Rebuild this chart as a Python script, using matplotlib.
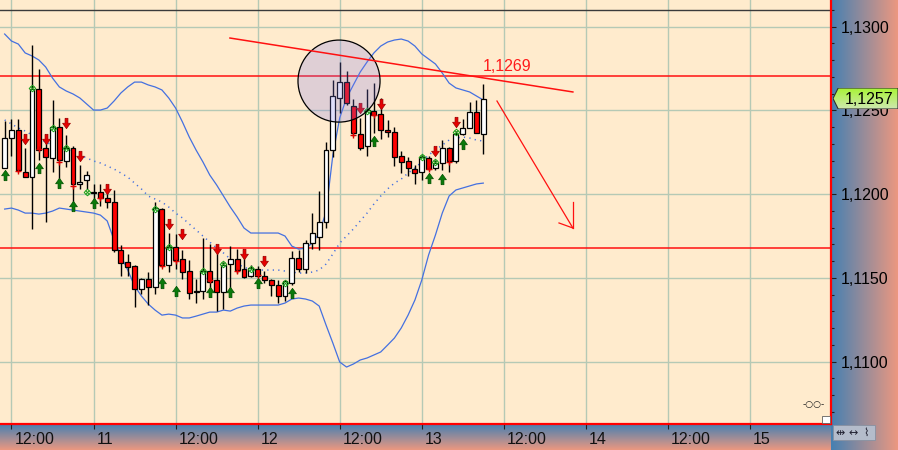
import matplotlib
matplotlib.use("Agg")
import numpy as np
import matplotlib.pyplot as plt
from matplotlib.path import Path
from matplotlib.patches import Ellipse, Polygon, Rectangle
from matplotlib.transforms import ScaledTranslation
from matplotlib.ticker import MultipleLocator, FuncFormatter

plt.rcParams['font.family'] = ['Liberation Sans', 'DejaVu Sans']

# hourly candles, hour 11 = day 10 11:00
hours = list(range(11, 82))
opens = [1.12159, 1.12334, 1.12383, 1.12134, 1.12101, 1.12626, 1.12274, 1.12214, 1.12403, 1.12200,
         1.12274, 1.12059, 1.12085, 1.12013, 1.12015, 1.11976, 1.11952, 1.11667, 1.11593, 1.11571,
         1.11432, 1.11494, 1.11448, 1.11912, 1.11577, 1.11683, 1.11611, 1.11542, 1.11419, 1.11422,
         1.11542, 1.11488, 1.11418, 1.11581, 1.11611, 1.11552, 1.11512, 1.11552, 1.11513, 1.11488,
         1.11456, 1.11394, 1.11468, 1.11617, 1.11552, 1.11710, 1.11746, 1.11836, 1.12264, 1.12576,
         1.12668, 1.12528, 1.12358, 1.12290, 1.12499, 1.12477, 1.12383, 1.12373, 1.12228, 1.12198,
         1.12150, 1.12134, 1.12214, 1.12155, 1.12185, 1.12274, 1.12198, 1.12359, 1.12393, 1.12489,
         1.12358]
highs = [1.12434, 1.12447, 1.12447, 1.12274, 1.12891, 1.12746, 1.12353, 1.12562, 1.12453, 1.12353,
         1.12288, 1.12174, 1.12140, 1.12061, 1.12061, 1.12019, 1.12025, 1.11697, 1.11643, 1.11580,
         1.11500, 1.11537, 1.11955, 1.11918, 1.11767, 1.11762, 1.11667, 1.11607, 1.11492, 1.11737,
         1.11703, 1.11647, 1.11597, 1.11691, 1.11671, 1.11667, 1.11577, 1.11571, 1.11543, 1.11496,
         1.11488, 1.11488, 1.11663, 1.11667, 1.11727, 1.11890, 1.12021, 1.12313, 1.12682, 1.12787,
         1.12736, 1.12567, 1.12453, 1.12626, 1.12666, 1.12573, 1.12443, 1.12399, 1.12260, 1.12220,
         1.12174, 1.12234, 1.12228, 1.12204, 1.12324, 1.12280, 1.12379, 1.12447, 1.12552, 1.12562,
         1.12656]
lows = [1.12156, 1.12228, 1.12133, 1.12101, 1.11792, 1.12204, 1.11836, 1.12134, 1.12085, 1.12162,
        1.11906, 1.12031, 1.12031, 1.11961, 1.11930, 1.11919, 1.11655, 1.11513, 1.11513, 1.11328,
        1.11404, 1.11339, 1.11404, 1.11567, 1.11534, 1.11552, 1.11494, 1.11374, 1.11349, 1.11374,
        1.11388, 1.11305, 1.11315, 1.11432, 1.11528, 1.11498, 1.11506, 1.11500, 1.11468, 1.11392,
        1.11349, 1.11364, 1.11458, 1.11537, 1.11531, 1.11671, 1.11667, 1.11796, 1.12224, 1.12487,
        1.12533, 1.12347, 1.12264, 1.12228, 1.12364, 1.12328, 1.12340, 1.12168, 1.12125, 1.12109,
        1.12059, 1.12085, 1.12145, 1.12145, 1.12145, 1.12134, 1.12186, 1.12353, 1.12393, 1.12364,
        1.12238]
closes = [1.12334, 1.12383, 1.12145, 1.12101, 1.12626, 1.12264, 1.12224, 1.12399, 1.12204, 1.12274,
          1.12059, 1.12075, 1.12115, 1.12007, 1.11976, 1.11955, 1.11667, 1.11587, 1.11567, 1.11432,
          1.11494, 1.11448, 1.11916, 1.11577, 1.11687, 1.11607, 1.11537, 1.11412, 1.11416, 1.11542,
          1.11478, 1.11418, 1.11576, 1.11611, 1.11547, 1.11507, 1.11558, 1.11512, 1.11488, 1.11456,
          1.11394, 1.11482, 1.11617, 1.11552, 1.11710, 1.11767, 1.11832, 1.12264, 1.12586, 1.12668,
          1.12543, 1.12364, 1.12278, 1.12503, 1.12473, 1.12383, 1.12370, 1.12224, 1.12194, 1.12155,
          1.12125, 1.12220, 1.12149, 1.12188, 1.12274, 1.12200, 1.12359, 1.12393, 1.12489, 1.12364,
          1.12567]

# bollinger bands
bb_upper = [1.12956, 1.12914, 1.12896, 1.12843, 1.12825, 1.12801, 1.12759, 1.12693, 1.12640, 1.12616,
            1.12598, 1.12574, 1.12538, 1.12502, 1.12502, 1.12514, 1.12556, 1.12604, 1.12640, 1.12669,
            1.12669, 1.12652, 1.12640, 1.12622, 1.12574, 1.12514, 1.12431, 1.12341, 1.12263, 1.12192,
            1.12114, 1.12055, 1.11989, 1.11923, 1.11864, 1.11798, 1.11768, 1.11768, 1.11768, 1.11768,
            1.11768, 1.11750, 1.11690, 1.11672, 1.11678, 1.11708, 1.11768, 1.11893, 1.12234, 1.12455,
            1.12574, 1.12652, 1.12729, 1.12789, 1.12843, 1.12884, 1.12908, 1.12920, 1.12926, 1.12914,
            1.12884, 1.12837, 1.12807, 1.12777, 1.12723, 1.12663, 1.12634, 1.12622, 1.12610, 1.12586,
            1.12562]
bb_lower = [1.11911, 1.11917, 1.11905, 1.11887, 1.11887, 1.11881, 1.11887, 1.11899, 1.11917, 1.11911,
            1.11905, 1.11899, 1.11893, 1.11887, 1.11875, 1.11840, 1.11726, 1.11631, 1.11547, 1.11452,
            1.11392, 1.11344, 1.11308, 1.11278, 1.11284, 1.11278, 1.11261, 1.11261, 1.11272, 1.11284,
            1.11296, 1.11296, 1.11308, 1.11302, 1.11320, 1.11332, 1.11338, 1.11338, 1.11338, 1.11338,
            1.11338, 1.11350, 1.11374, 1.11380, 1.11374, 1.11362, 1.11332, 1.11219, 1.11111, 1.10998,
            1.10968, 1.10986, 1.11010, 1.11022, 1.11040, 1.11058, 1.11099, 1.11141, 1.11201, 1.11278,
            1.11368, 1.11487, 1.11637, 1.11756, 1.11887, 1.11989, 1.12025, 1.12037, 1.12049, 1.12061,
            1.12066]
bb_mid = [1.12443, 1.12419, 1.12395, 1.12377, 1.12353, 1.12335, 1.12311, 1.12293, 1.12281, 1.12269,
          1.12252, 1.12234, 1.12216, 1.12198, 1.12186, 1.12168, 1.12150, 1.12126, 1.12102, 1.12066,
          1.12031, 1.11989, 1.11971, 1.11953, 1.11923, 1.11887, 1.11858, 1.11822, 1.11786, 1.11750,
          1.11714, 1.11678, 1.11649, 1.11613, 1.11583, 1.11565, 1.11547, 1.11547, 1.11547, 1.11547,
          1.11547, 1.11541, 1.11535, 1.11529, 1.11529, 1.11535, 1.11547, 1.11583, 1.11643, 1.11708,
          1.11750, 1.11792, 1.11840, 1.11887, 1.11941, 1.11989, 1.12031, 1.12066, 1.12090, 1.12126,
          1.12156, 1.12192, 1.12234, 1.12263, 1.12293, 1.12323, 1.12335, 1.12341, 1.12335, 1.12323,
          1.12317]

# signal arrows (hour, price)
sell_hours = [14, 17, 20, 22, 26, 35, 37, 42, 46, 49, 63, 66, 74, 77]
sell_prices = [1.12329, 1.12332, 1.12425, 1.12228, 1.12031, 1.11822, 1.11762, 1.11672, 1.11643, 1.11601,
               1.12517, 1.12538, 1.12258, 1.12428]
buy_hours = [11, 16, 19, 21, 24, 34, 36, 41, 44, 48, 53, 65, 73, 75, 78]
buy_prices = [1.12117, 1.12156, 1.12069, 1.11929, 1.11947, 1.11472, 1.11419, 1.11413, 1.11413, 1.11472,
              1.11410, 1.12320, 1.12099, 1.12093, 1.12299]
up_mark_hours = [15, 18, 20, 23, 33, 35, 40, 43, 47, 52, 64, 72, 74, 77]
up_mark_prices = [1.12634, 1.12395, 1.12275, 1.12010, 1.11911, 1.11684, 1.11541, 1.11586, 1.11553, 1.11469,
                  1.12499, 1.12220, 1.12192, 1.12371]
dn_mark_hours = [13, 16, 19, 21, 25, 34, 36, 41, 45, 48, 62, 65, 73, 76]
dn_mark_prices = [1.12138, 1.12269, 1.12192, 1.12050, 1.11977, 1.11574, 1.11601, 1.11487, 1.11541, 1.11517,
                  1.12353, 1.12472, 1.12148, 1.12194]

top_level = 1.1310
resistance = 1.12705
support = 1.11677
resistance_label = "1,1269"
last_label = "1,1257"
trend_x = [43.95, 94.1]
trend_y = [1.12932, 1.12610]
arrow_x = [83.0, 94.1]
arrow_y = [1.12556, 1.11798]

x_ticks = [12, 24, 36, 48, 60, 72, 84, 96, 108, 120]
x_labels = ["12:00", "11", "12:00", "12", "12:00", "13", "12:00", "14", "12:00", "15"]

W, H = 898, 450
fig = plt.figure(figsize=(W / 100, H / 100), dpi=100)

# gradient side panels
grad_h = np.linspace(0, 1, 256)[None, :]
c_blue = np.array([70, 128, 178]) / 255
c_salm = np.array([236, 152, 128]) / 255
img_h = c_blue[None, None, :] * (1 - grad_h[..., None]) + c_salm[None, None, :] * grad_h[..., None]
rbg = fig.add_axes([831 / W, 0, 67 / W, 1])
rbg.imshow(img_h, aspect='auto', extent=[0, 1, 0, 1])
rbg.axis('off')
img_v = np.transpose(img_h, (1, 0, 2))
bbg = fig.add_axes([0, 0, 831 / W, 26 / H])
bbg.imshow(img_v, aspect='auto', extent=[0, 1, 0, 1])
bbg.axis('off')

ax = fig.add_axes([0, 26 / H, 831 / W, 424 / H])
ax.set_facecolor('#ffebcd')
ax.set_xlim(10.32, 131.85)
ax.set_ylim(1.10628, 1.13159)

grid_c = '#b5c9b5'
for t in x_ticks:
    ax.axvline(t, color=grid_c, lw=1, zorder=0)
for p in [1.1100, 1.1150, 1.1200, 1.1250, 1.1300]:
    ax.axhline(p, color=grid_c, lw=1, zorder=0)

ax.axhline(top_level, color='#3a3a3a', lw=1, zorder=1)
ax.axhline(resistance, color='#ff1010', lw=1.1, zorder=1)
ax.axhline(support, color='#ff1010', lw=1.1, zorder=1)

# bands
ax.plot(hours, bb_upper, color='#4470e0', lw=0.9, zorder=2)
ax.plot(hours, bb_lower, color='#4470e0', lw=0.9, zorder=2)
ax.plot(hours, bb_mid, color='#4470e0', lw=1.1, ls=(0, (0.8, 2.8)), zorder=2)

# candles
o = np.array(opens); c = np.array(closes)
up = c >= o
ax.vlines(hours, lows, highs, color='black', lw=1.0, zorder=3)
body_lo = np.minimum(o, c)
body_h = np.maximum(np.abs(c - o), 0.00003)
ax.bar(hours, body_h, bottom=body_lo, width=0.72,
       color=np.where(up, '#ffffff', '#ff0000'), edgecolor='black', linewidth=0.9, zorder=4)

# arrows
down_arrow = Path([(-0.28, 1.0), (0.28, 1.0), (0.28, 0.05), (0.75, 0.05), (0.0, -1.0),
                   (-0.75, 0.05), (-0.28, 0.05), (-0.28, 1.0)])
up_arrow = Path([(x, -y) for x, y in down_arrow.vertices])
ax.plot(sell_hours, sell_prices, ls='none', marker=down_arrow, ms=7.5, mfc='#e60000', mec='#9a0000',
        mew=0.5, zorder=5)
ax.plot(buy_hours, buy_prices, ls='none', marker=up_arrow, ms=7.5, mfc='#0a7a0a', mec='#005000',
        mew=0.5, zorder=5)
ax.plot(up_mark_hours, up_mark_prices, ls='none', marker='D', ms=3.4, mfc='none', mec='#1aa01a',
        mew=0.7, zorder=5)
ax.plot(up_mark_hours, up_mark_prices, ls='none', marker='x', ms=2.4, mec='#1aa01a', mew=0.7, zorder=5)
ax.plot(dn_mark_hours, dn_mark_prices, ls='none', marker='+', ms=4.0, mec='#e00000', mew=1.0, zorder=5)

# highlight circle
ax.add_patch(Ellipse((59.9, 1.12675), 12.0, 0.004896, facecolor=(0.51, 0.49, 0.93, 0.25),
                     edgecolor='black', lw=0.9, zorder=6))

# drawn trend line and arrow
ax.plot(trend_x, trend_y, color='#ff1010', lw=1.1, zorder=7)
ax.plot(arrow_x, arrow_y, color='#ff1010', lw=0.9, zorder=7)
ax.plot([arrow_x[1], arrow_x[1]], [arrow_y[1], 1.11953], color='#ff1010', lw=0.9, zorder=7)
ax.plot([92.07, arrow_x[1]], [1.11828, arrow_y[1]], color='#ff1010', lw=0.9, zorder=7)
ax.text(80.9, resistance + 0.0001, resistance_label, color='#ff1a1a', fontsize=11.5,
        ha='left', va='bottom', zorder=7)

# axes styling
for s in ['left', 'top']:
    ax.spines[s].set_visible(False)
for s in ['right', 'bottom']:
    ax.spines[s].set_color('#ff0000')
    ax.spines[s].set_linewidth(1.6)

ax.set_xticks(x_ticks, x_labels)
ax.tick_params(axis='x', direction='out', length=3.6, width=0.8, color='#202020', pad=2.5,
               labelsize=11.5, labelcolor='#111111')
offset = ScaledTranslation(2 / 72, 0, fig.dpi_scale_trans)
for lab in ax.get_xticklabels():
    lab.set_ha('left')
    lab.set_transform(lab.get_transform() + offset)

ax.yaxis.tick_right()
ax.yaxis.set_major_locator(MultipleLocator(0.005))
ax.yaxis.set_minor_locator(MultipleLocator(0.001))
ax.yaxis.set_major_formatter(FuncFormatter(lambda v, pos: f"{v:.4f}".replace('.', ',')))
ax.tick_params(axis='y', which='major', direction='out', length=3.5, width=0.8, color='#202020',
               pad=3.5, labelsize=11.5, labelcolor='#000000')
ax.tick_params(axis='y', which='minor', direction='out', length=2.5, width=0.8, color='#202020')

# last price tag
tag = fig.add_axes([833 / W, 1 - 109 / H, 65 / W, 21 / H])
g = np.linspace(0, 1, 64)[:, None]
top_c = np.array([168, 244, 52]) / 255
bot_c = np.array([206, 232, 176]) / 255
tag_img = top_c[None, None, :] * (1 - g[..., None]) + bot_c[None, None, :] * g[..., None]
tag_img = np.repeat(tag_img, 4, axis=1)
im = tag.imshow(tag_img, aspect='auto', extent=[0, 1, 0, 1])
shape = Polygon([(0, 0.5), (0.08, 1), (1, 1), (1, 0), (0.08, 0)], closed=True,
                transform=tag.transAxes, facecolor='none', edgecolor='#303030', lw=0.8)
tag.add_patch(shape)
im.set_clip_path(shape)
tag.text(0.56, 0.47, last_label, transform=tag.transAxes, ha='center', va='center',
         fontsize=11.5, color='#000000')
tag.axis('off')

# little toolbar icons in the corner
fig.patches.append(Rectangle((833 / W, 1 - 440 / H), 42 / W, 15 / H, transform=fig.transFigure,
                             facecolor='#b4bccb', edgecolor='#8890a0', lw=0.6))
for i, sym in enumerate(['\u21f9', '\u2194', '\u2307']):
    fig.text((840 + i * 13) / W, 1 - 433 / H, sym, fontsize=8, ha='center', va='center',
             color='#202030', family=['DejaVu Sans'])
fig.patches.append(Rectangle((822 / W, 1 - 423 / H), 8 / W, 7 / H, transform=fig.transFigure,
                             facecolor='white', edgecolor='#606060', lw=0.6))
fig.text(814 / W, 1 - 405 / H, '-\u25cb\u25cb-', fontsize=6.5, ha='center', va='center',
         color='#202020', family=['DejaVu Sans'])

fig.savefig('out.png', dpi=100)
